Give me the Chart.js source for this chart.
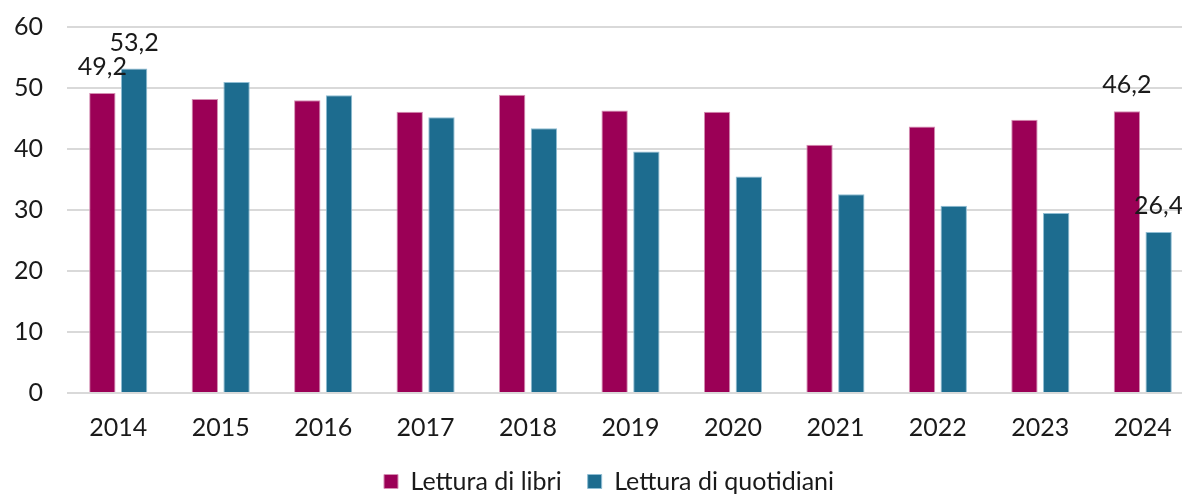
<!DOCTYPE html>
<html>
<head>
<meta charset="utf-8">
<style>
  html, body { margin: 0; padding: 0; background: #fff; overflow: hidden; }
  #wrap { width: 1194px; height: 506px; margin-top: -12px; }
</style>
</head>
<body>
<div id="wrap"><canvas id="barChart"></canvas></div>
<script src="https://cdn.jsdelivr.net/npm/chart.js"></script>
<script>
const years = ['2014','2015','2016','2017','2018','2019','2020','2021','2022','2023','2024'];
const libri = [49.2, 48.2, 48.0, 46.1, 48.9, 46.3, 46.1, 40.7, 43.7, 44.8, 46.2];
const quotidiani = [53.2, 51.0, 48.8, 45.2, 43.4, 39.6, 35.5, 32.6, 30.7, 29.5, 26.4];
const yTicks = [0, 10, 20, 30, 40, 50, 60];
const labelledYears = ['2014', '2024'];

const fontFamily = 'Lato, "Noto Sans", sans-serif';
const fontSize = 25;

// etichette solo per il primo e l'ultimo anno
const valueLabels = {
    id: 'valueLabels',
    afterLayout(chart) {
        // legenda un po' più a destra, come nell'originale
        const lg = chart.legend;
        if (lg) { lg.left += 12; lg.right += 12; }
    },
    afterDatasetsDraw(chart) {
        const c = chart.ctx;
        c.save();
        c.font = fontSize + 'px ' + fontFamily;
        c.fillStyle = '#1a1a1a';
        c.textAlign = 'center';
        c.textBaseline = 'middle';
        chart.data.datasets.forEach((ds, i) => {
            chart.getDatasetMeta(i).data.forEach((bar, j) => {
                if (!labelledYears.includes(years[j])) return;
                const txt = ds.data[j].toFixed(1).replace('.', ',');
                c.fillText(txt, bar.x, bar.y - 26);
            });
        });
        c.restore();
    }
};

const ctx = document.getElementById('barChart').getContext('2d');
const barChart = new Chart(ctx, {
    type: 'bar',
    data: {
        labels: years,
        datasets: [{
            label: 'Lettura di libri',
            data: libri,
            backgroundColor: '#9b0056',
            borderColor: '#d58fb3',
            borderWidth: 1
        }, {
            label: 'Lettura di quotidiani',
            data: quotidiani,
            backgroundColor: '#1d6c8f',
            borderColor: '#8fbdd3',
            borderWidth: 1
        }]
    },
    options: {
        responsive: true,
        maintainAspectRatio: false,
        animation: false,
        layout: { padding: { top: 0, left: 0, right: 0, bottom: -10 } },
        datasets: { bar: { categoryPercentage: 0.62, barPercentage: 0.83 } },
        scales: {
            x: {
                afterFit: s => { s.height = 50; },
                grid: { display: false },
                border: { display: false },
                ticks: { color: '#1a1a1a', font: { family: fontFamily, size: fontSize }, padding: 12 }
            },
            y: {
                min: 0, max: 60,
                afterBuildTicks: s => { s.ticks = yTicks.map(v => ({ value: v })); },
                afterFit: s => { s.width = 67; },
                grid: { color: '#d9d9d9', lineWidth: 2, drawTicks: false },
                border: { display: false },
                ticks: { color: '#1a1a1a', font: { family: fontFamily, size: fontSize }, padding: 24 }
            }
        },
        plugins: {
            legend: {
                position: 'bottom',
                labels: {
                    color: '#1a1a1a',
                    font: { family: fontFamily, size: fontSize },
                    boxWidth: 14, boxHeight: 14,
                    padding: 26
                }
            },
            tooltip: { enabled: false }
        }
    },
    plugins: [valueLabels]
});
</script>
</body>
</html>
